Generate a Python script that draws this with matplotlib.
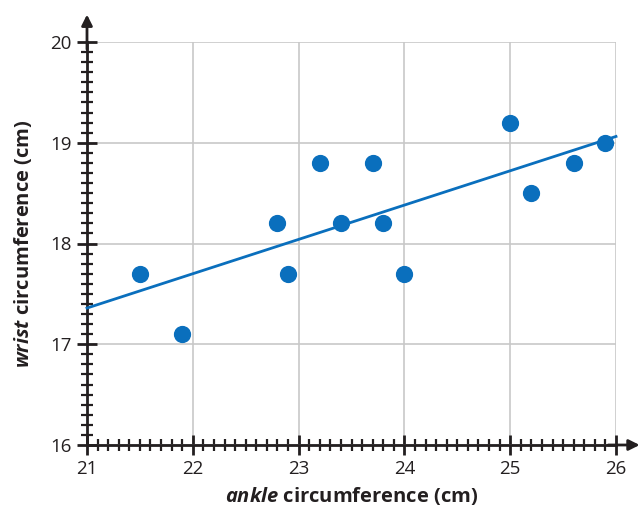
import numpy as np
import matplotlib.pyplot as plt
from matplotlib.ticker import MultipleLocator

plt.rcParams['font.family'] = ['Open Sans', 'DejaVu Sans']
plt.rcParams['mathtext.fontset'] = 'custom'
plt.rcParams['mathtext.it'] = 'Open Sans:italic:bold'
plt.rcParams['mathtext.rm'] = 'Open Sans:bold'

ankle = [21.5, 21.9, 22.8, 22.9, 23.2, 23.4, 23.7, 23.8, 24.0, 25.0, 25.2, 25.6, 25.9]
wrist = [17.7, 17.1, 18.2, 17.7, 18.8, 18.2, 18.8, 18.2, 17.7, 19.2, 18.5, 18.8, 19.0]

blue = '#0a6fbd'
dark = '#231f20'

fig = plt.figure(figsize=(6.42, 5.08), dpi=100)
ax = fig.add_axes([87 / 642, 63 / 508, 529 / 642, 403 / 508])

ax.set_xlim(21, 26)
ax.set_ylim(16, 20)

# grid at whole units only
ax.xaxis.set_major_locator(MultipleLocator(1))
ax.yaxis.set_major_locator(MultipleLocator(1))
ax.xaxis.set_minor_locator(MultipleLocator(0.1))
ax.yaxis.set_minor_locator(MultipleLocator(0.1))
ax.grid(True, which='major', color='#c8c8c8', linewidth=1.2)
ax.set_axisbelow(True)

for side in ['top', 'right']:
    ax.spines[side].set_visible(False)
for side in ['left', 'bottom']:
    ax.spines[side].set_color(dark)
    ax.spines[side].set_linewidth(2)

ax.tick_params(which='major', direction='inout', length=14, width=2, color=dark,
               labelsize=13.5, labelcolor=dark, pad=4)
ax.tick_params(which='minor', direction='inout', length=9, width=1.6, color=dark)

# axis arrows
ax.annotate('', xy=(26.25, 16), xytext=(25.9, 16), annotation_clip=False,
            arrowprops=dict(arrowstyle='-|>', color=dark, lw=2, mutation_scale=16))
ax.annotate('', xy=(21, 20.3), xytext=(21, 19.9), annotation_clip=False,
            arrowprops=dict(arrowstyle='-|>', color=dark, lw=2, mutation_scale=16))

# least-squares line through the points
m, b = np.polyfit(ankle, wrist, 1)
xs = np.array([21, 26])
ax.plot(xs, m * xs + b, color=blue, linewidth=2, clip_on=False, zorder=3)

ax.scatter(ankle, wrist, s=130, color=blue, zorder=4, clip_on=False)

ax.set_xlabel(r'$\mathit{ankle}$ circumference (cm)', fontsize=14.5, fontweight='bold',
              color=dark, labelpad=5)
ax.set_ylabel(r'$\mathit{wrist}$ circumference (cm)', fontsize=14.5, fontweight='bold',
              color=dark, labelpad=12)

fig.savefig('out.png', dpi=100)
